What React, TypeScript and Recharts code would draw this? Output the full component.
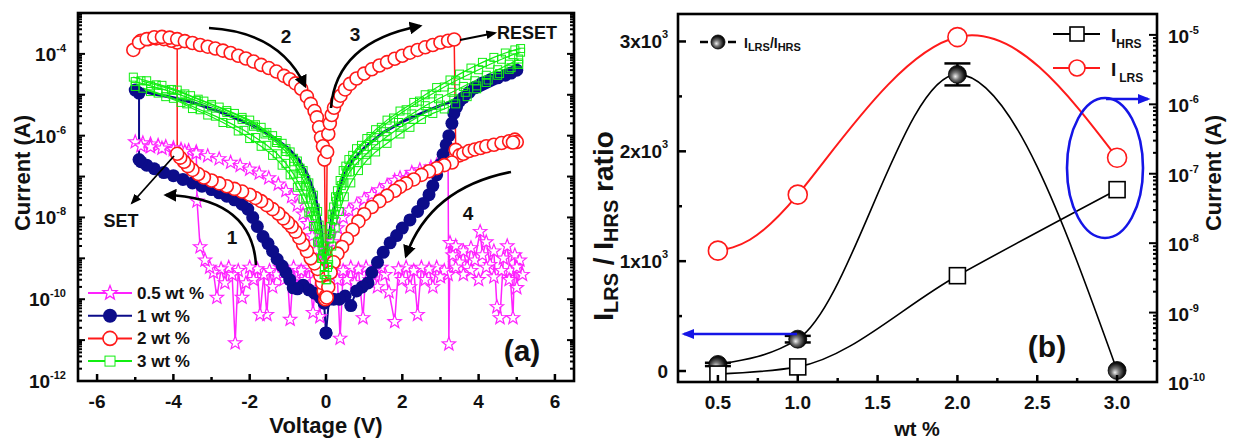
import React from 'react';
import { LineChart, ComposedChart, Line, XAxis, YAxis, ErrorBar } from 'recharts';

const FONT = '"Liberation Sans", Arial, Helvetica, sans-serif';

type Pt = [number, number];

// ---------- panel (a): I-V sweeps, [voltage (V), current (A)] ----------

const wt05Sweep: Pt[] = [
  [0.0, 3e-10], [-0.1, 6e-10], [-0.16, 3.7e-11], [-0.25, 5e-10], [-0.34, 4.7e-11], [-0.45, 6e-10],
  [-0.55, 3e-10], [-0.65, 5e-10], [-0.75, 2e-10], [-0.85, 6e-10], [-0.94, 3.2e-11], [-1.02, 5e-10],
  [-1.1, 3e-10], [-1.2, 6e-10], [-1.3, 4e-10], [-1.4, 2e-10], [-1.48, 5e-10], [-1.55, 4.2e-11],
  [-1.63, 4e-10], [-1.73, 4.2e-11], [-1.8, 5.5e-10], [-1.9, 3e-10], [-2.0, 6e-10], [-2.1, 2.5e-10],
  [-2.2, 1.1e-10], [-2.3, 5e-10], [-2.38, 8.5e-12], [-2.46, 4e-10], [-2.55, 6e-10], [-2.65, 2.5e-10],
  [-2.75, 5.5e-10], [-2.86, 1.1e-10], [-2.95, 4.5e-10], [-3.05, 6e-10], [-3.17, 9e-10], [-3.3, 1.9e-9],
  [-3.38, 2.5e-8],
  // SET
  [-3.4, 4.0e-7], [-3.6, 4.3e-7], [-3.8, 4.6e-7], [-4.0, 5.0e-7], [-4.2, 5.4e-7], [-4.4, 5.8e-7],
  [-4.6, 6.2e-7], [-4.8, 6.6e-7], [-5.0, 7.0e-7],
  [-4.85, 5.6e-7], [-4.6, 5.3e-7], [-4.3, 4.9e-7], [-4.0, 4.5e-7], [-3.7, 4.1e-7], [-3.4, 3.7e-7],
  [-3.1, 3.2e-7], [-2.8, 2.7e-7], [-2.5, 2.2e-7], [-2.25, 1.85e-7], [-2.0, 1.5e-7], [-1.75, 1.2e-7],
  [-1.5, 9.2e-8], [-1.25, 6.5e-8], [-1.05, 4.5e-8], [-0.9, 3.2e-8], [-0.75, 2.0e-8], [-0.6, 1.2e-8],
  [-0.48, 7e-9], [-0.36, 3.5e-9], [-0.25, 1.6e-9], [-0.15, 8e-10], [-0.06, 3e-10],
  // positive LRS
  [0.08, 8e-10], [0.18, 2.5e-9], [0.3, 5.5e-9], [0.45, 1.0e-8], [0.6, 1.5e-8], [0.8, 2.0e-8],
  [1.0, 2.8e-8], [1.2, 3.6e-8], [1.4, 4.7e-8], [1.6, 6.0e-8], [1.8, 8.0e-8], [1.94, 9.3e-8],
  [2.1, 9.0e-8], [2.25, 1.25e-7], [2.46, 1.45e-7], [2.6, 1.3e-7], [2.75, 1.7e-7], [2.9, 1.9e-7],
  [3.05, 2.1e-7], [3.2, 2.3e-7],
  // RESET, noisy HRS
  [3.22, 8e-12], [3.25, 2.4e-9], [3.32, 1.2e-9], [3.4, 2e-9], [3.5, 8e-10], [3.6, 1.5e-9], [3.7, 6e-10],
  [3.8, 1.8e-9], [3.9, 9e-10], [4.04, 4.5e-9], [4.1, 1.2e-9], [4.2, 2.5e-9], [4.3, 7e-10], [4.4, 1.5e-9],
  [4.48, 6.5e-11], [4.56, 3.5e-11], [4.65, 1e-9], [4.75, 2e-9], [4.82, 5e-10], [4.9, 3.5e-11],
  [4.95, 1.2e-9], [5.0, 1.9e-10], [5.08, 9e-10], [5.15, 4e-10],
  [5.0, 6e-10], [4.8, 3e-10], [4.6, 5e-10], [4.4, 3.5e-10], [4.2, 6e-10], [4.0, 3e-10], [3.8, 5e-10],
  [3.6, 4e-10], [3.4, 6e-10], [3.2, 4e-10], [3.1, 5e-10], [3.0, 3.5e-10], [2.9, 6e-10], [2.8, 2e-10],
  [2.7, 5.5e-10], [2.6, 3e-10], [2.5, 6e-10], [2.4, 4.2e-11], [2.3, 5e-10], [2.2, 2e-10], [2.1, 6e-10],
  [2.0, 3e-10], [1.9, 5.5e-10], [1.8, 2.8e-11], [1.65, 1.5e-10], [1.55, 4e-10], [1.45, 6e-10],
  [1.35, 2e-10], [1.25, 5e-10], [1.15, 3e-10], [1.05, 6e-10], [0.97, 3.5e-11], [0.85, 5.5e-10],
  [0.75, 2.5e-10], [0.65, 6e-10], [0.55, 3e-10], [0.45, 5e-10], [0.37, 1.1e-11], [0.3, 3e-10],
  [0.2, 6e-10], [0.1, 4e-10],
];

const wt1Hrs: Pt[] = [
  [0.0, 1.5e-11], [-0.05, 8e-11], [-0.15, 1.1e-10], [-0.3, 1.4e-10], [-0.45, 1.7e-10], [-0.6, 2.2e-10],
  [-0.75, 1.8e-10], [-0.86, 1.9e-10], [-0.95, 3e-10], [-1.05, 4.5e-10], [-1.15, 6.5e-10],
  [-1.28, 9.5e-10], [-1.4, 1.5e-9], [-1.52, 2.3e-9], [-1.65, 3.4e-9], [-1.8, 6e-9], [-1.92, 1e-8],
  [-2.05, 1.6e-8], [-2.2, 2.1e-8], [-2.4, 2.7e-8], [-2.6, 3.3e-8], [-2.8, 4e-8], [-3.0, 4.8e-8],
  [-3.25, 5.8e-8], [-3.5, 7e-8], [-3.75, 8.5e-8], [-4.0, 1.05e-7], [-4.25, 1.25e-7], [-4.5, 1.55e-7],
  [-4.7, 1.9e-7], [-4.85, 2.3e-7], [-4.9, 2.6e-7],
  // SET
  [-4.9, 1.1e-5], [-5.0, 1.3e-5],
];

const wt1Lrs: Pt[] = [
  [-5.0, 1.3e-5], [-4.8, 1.2e-5], [-4.5, 1.05e-5], [-4.0, 8.5e-6], [-3.5, 6.5e-6], [-3.0, 4.5e-6],
  [-2.5, 3e-6], [-2.0, 1.9e-6], [-1.5, 1.1e-6], [-1.0, 5e-7], [-0.7, 2.5e-7], [-0.5, 1.2e-7],
  [-0.3, 4e-8], [-0.15, 8e-9], [-0.05, 1e-9], [0.05, 2e-9], [0.15, 1e-8], [0.3, 4e-8], [0.5, 1.2e-7],
  [0.7, 2.5e-7], [1.0, 5e-7], [1.5, 1.2e-6], [2.0, 2.2e-6], [2.5, 3.5e-6], [3.0, 5.5e-6],
  [3.5, 8e-6], [4.0, 1.2e-5], [4.5, 2e-5], [5.0, 4e-5],
];

const wt1Return: Pt[] = [
  [5.0, 4e-5], [4.85, 3.4e-5], [4.7, 3e-5], [4.5, 2.6e-5], [4.3, 2.3e-5], [4.1, 1.95e-5], [3.9, 1.5e-5],
  [3.75, 1.15e-5], [3.6, 8.5e-6], [3.5, 7e-6], [3.42, 5e-6], [3.35, 3.5e-6], [3.3, 2e-6], [3.22, 1e-6],
  [3.15, 6e-7], [3.07, 3.5e-7], [3.0, 2e-7], [2.9, 1.1e-7], [2.8, 6e-8], [2.7, 3.6e-8], [2.55, 2.2e-8],
  [2.4, 1.4e-8], [2.2, 8.7e-9], [2.0, 5.5e-9], [1.85, 3.6e-9], [1.68, 2.4e-9], [1.5, 1.4e-9],
  [1.35, 8e-10], [1.2, 4.5e-10], [1.1, 2.5e-10], [0.95, 2e-10], [0.8, 1.6e-10], [0.65, 7e-11],
  [0.5, 1.2e-10], [0.35, 1e-10], [0.2, 1e-10], [0.08, 1e-10], [0.0, 1.5e-11],
];

const wt2Sweep: Pt[] = [
  [-0.02, 1.0e-10], [-0.06, 1.6e-10], [-0.1, 2.5e-10], [-0.15, 3.8e-10], [-0.22, 5.5e-10],
  [-0.3, 7.5e-10], [-0.4, 1.0e-9], [-0.5, 1.5e-9], [-0.6, 2.2e-9], [-0.7, 3.2e-9], [-0.8, 4.5e-9],
  [-0.9, 6.0e-9], [-1.0, 7.5e-9], [-1.12, 9.5e-9], [-1.25, 1.25e-8], [-1.4, 1.6e-8], [-1.55, 2.0e-8],
  [-1.7, 2.5e-8], [-1.85, 3.0e-8], [-2.0, 3.6e-8], [-2.2, 4.3e-8], [-2.4, 5.0e-8], [-2.6, 5.8e-8],
  [-2.8, 6.8e-8], [-3.0, 8.0e-8], [-3.2, 9.5e-8], [-3.35, 1.15e-7], [-3.5, 1.45e-7], [-3.62, 1.8e-7],
  [-3.72, 2.3e-7], [-3.82, 2.9e-7], [-3.9, 3.6e-7],
  // SET
  [-3.9, 1.9e-4], [-4.05, 2.1e-4], [-4.25, 2.3e-4], [-4.45, 2.4e-4], [-4.65, 2.3e-4], [-4.85, 2.1e-4],
  [-5.05, 1.25e-4], [-4.9, 1.9e-4], [-4.7, 2.3e-4], [-4.5, 2.55e-4], [-4.3, 2.6e-4], [-4.1, 2.5e-4],
  [-3.9, 2.3e-4], [-3.7, 2.05e-4], [-3.5, 1.85e-4], [-3.3, 1.65e-4], [-3.1, 1.5e-4], [-2.9, 1.35e-4],
  [-2.7, 1.2e-4], [-2.5, 1.05e-4], [-2.3, 9.0e-5], [-2.1, 7.7e-5], [-1.9, 6.5e-5], [-1.7, 5.4e-5],
  [-1.5, 4.5e-5], [-1.3, 3.7e-5], [-1.1, 2.9e-5], [-0.95, 2.4e-5], [-0.8, 1.9e-5], [-0.65, 1.4e-5],
  [-0.5, 9.0e-6], [-0.4, 6.0e-6], [-0.3, 4.0e-6], [-0.24, 2.8e-6], [-0.18, 1.6e-6], [-0.13, 9.0e-7],
  [-0.08, 5.5e-7], [-0.04, 2.6e-7], [0.0, 1.2e-10],
  [0.03, 4.0e-7], [0.06, 1.1e-6], [0.1, 2.0e-6], [0.15, 3.2e-6], [0.21, 4.8e-6], [0.29, 7.0e-6],
  [0.38, 9.5e-6], [0.5, 1.35e-5], [0.63, 1.85e-5], [0.8, 2.5e-5], [1.0, 3.3e-5], [1.2, 4.2e-5],
  [1.4, 5.2e-5], [1.6, 6.3e-5], [1.8, 7.6e-5], [2.0, 9.0e-5], [2.2, 1.07e-4], [2.4, 1.25e-4],
  [2.6, 1.45e-4], [2.8, 1.65e-4], [3.0, 1.9e-4], [3.2, 2.1e-4], [3.36, 2.25e-4],
  // RESET
  [3.4, 4.5e-7], [3.5, 3.3e-7], [3.6, 3.6e-7], [3.75, 4.2e-7], [3.9, 4.6e-7], [4.05, 5.0e-7],
  [4.2, 5.5e-7], [4.4, 6.0e-7], [4.6, 6.6e-7], [4.8, 7.3e-7], [4.95, 8.0e-7], [5.0, 7.0e-7],
  [4.9, 6.8e-7], [3.3, 2.2e-7], [3.1, 1.9e-7], [2.9, 1.6e-7], [2.7, 1.35e-7], [2.5, 1.1e-7],
  [2.3, 8.5e-8], [2.1, 6.8e-8], [1.94, 5.6e-8], [1.8, 4.5e-8], [1.6, 3.4e-8], [1.4, 2.5e-8],
  [1.2, 1.8e-8], [1.0, 1.2e-8], [0.85, 8.0e-9], [0.7, 5.0e-9], [0.55, 3.0e-9], [0.42, 1.9e-9],
  [0.3, 1.3e-9], [0.2, 8.0e-10], [0.12, 4.5e-10], [0.06, 2.0e-10], [0.02, 1.1e-10],
];

// 3 wt %: several overlapping cycles form a thick band
const wt3LeftTop: Pt[] = [
  [-5.05, 2.7e-5], [-4.7, 2.2e-5], [-4.3, 1.7e-5], [-3.9, 1.3e-5], [-3.55, 9.5e-6], [-3.2, 7.0e-6],
  [-2.8, 5.0e-6], [-2.4, 3.5e-6], [-2.0, 2.4e-6], [-1.7, 1.6e-6], [-1.4, 1.0e-6], [-1.15, 6.5e-7],
  [-0.94, 4.0e-7], [-0.75, 2.4e-7], [-0.6, 1.4e-7], [-0.45, 7.0e-8], [-0.33, 3.5e-8], [-0.22, 1.4e-8],
  [-0.13, 5.0e-9], [-0.06, 1.5e-9], [0.0, 3.0e-10],
];
const wt3LeftUpperMid: Pt[] = [
  [-4.85, 2.2e-5], [-4.45, 1.75e-5], [-4.05, 1.35e-5], [-3.7, 1.05e-5], [-3.35, 7.8e-6], [-3.0, 5.8e-6],
  [-2.6, 4.1e-6], [-2.2, 2.8e-6], [-1.85, 1.85e-6], [-1.55, 1.2e-6], [-1.28, 7.6e-7], [-1.05, 4.8e-7],
  [-0.85, 2.8e-7], [-0.68, 1.6e-7], [-0.53, 8.5e-8], [-0.4, 4e-8], [-0.28, 1.7e-8], [-0.18, 6.5e-9],
  [-0.1, 2e-9], [-0.04, 6e-10],
];
const wt3LeftMid: Pt[] = [
  [-5.0, 2.1e-5], [-4.6, 1.65e-5], [-4.2, 1.3e-5], [-3.8, 9.8e-6], [-3.4, 7.2e-6], [-3.0, 5.3e-6],
  [-2.6, 3.7e-6], [-2.2, 2.5e-6], [-1.9, 1.7e-6], [-1.6, 1.1e-6], [-1.3, 6.8e-7], [-1.05, 4.1e-7],
  [-0.85, 2.3e-7], [-0.68, 1.2e-7], [-0.52, 5.8e-8], [-0.4, 2.8e-8], [-0.28, 1.1e-8], [-0.18, 4e-9],
  [-0.09, 1.2e-9], [-0.03, 4e-10],
];
const wt3LeftLowerMid: Pt[] = [
  [-4.8, 1.45e-5], [-4.4, 1.1e-5], [-4.0, 8.2e-6], [-3.65, 6.0e-6], [-3.3, 4.3e-6], [-2.9, 3.0e-6],
  [-2.5, 2.0e-6], [-2.15, 1.35e-6], [-1.85, 9.0e-7], [-1.55, 5.8e-7], [-1.28, 3.6e-7], [-1.05, 2.1e-7],
  [-0.85, 1.15e-7], [-0.68, 6e-8], [-0.53, 3e-8], [-0.4, 1.4e-8], [-0.28, 6e-9], [-0.18, 2.5e-9],
  [-0.1, 1e-9],
];
const wt3LeftBot: Pt[] = [
  [-5.0, 1.6e-5], [-4.6, 1.2e-5], [-4.2, 9.0e-6], [-3.8, 6.5e-6], [-3.5, 4.6e-6], [-3.1, 3.2e-6],
  [-2.7, 2.1e-6], [-2.3, 1.3e-6], [-2.0, 8.5e-7], [-1.7, 5.5e-7], [-1.4, 3.3e-7], [-1.15, 1.9e-7],
  [-0.94, 1.1e-7], [-0.75, 5.5e-8], [-0.6, 2.8e-8], [-0.45, 1.3e-8], [-0.33, 6e-9], [-0.22, 2.5e-9],
  [-0.12, 1e-9], [-0.05, 4e-10],
];
const wt3RightTop: Pt[] = [
  [0.05, 1.5e-9], [0.12, 6e-9], [0.2, 1.8e-8], [0.3, 4.5e-8], [0.45, 1.4e-7], [0.6, 2.6e-7],
  [0.8, 4.8e-7], [1.07, 8.5e-7], [1.3, 1.4e-6], [1.6, 2.4e-6], [1.94, 4.0e-6], [2.3, 6.5e-6],
  [2.6, 1.0e-5], [2.9, 1.5e-5], [3.25, 2.3e-5], [3.5, 3.2e-5], [3.8, 4.5e-5], [4.1, 6.2e-5],
  [4.4, 8.2e-5], [4.7, 1.05e-4], [4.95, 1.25e-4], [5.1, 1.35e-4],
];
const wt3RightUpperMid: Pt[] = [
  [0.08, 3e-9], [0.16, 1.2e-8], [0.25, 3.2e-8], [0.37, 8e-8], [0.52, 1.8e-7], [0.7, 3.3e-7],
  [0.93, 5.8e-7], [1.18, 9.5e-7], [1.45, 1.6e-6], [1.77, 2.7e-6], [2.1, 4.3e-6], [2.45, 7.0e-6],
  [2.78, 1.05e-5], [3.1, 1.55e-5], [3.4, 2.2e-5], [3.7, 3.0e-5], [4.0, 4.1e-5], [4.3, 5.6e-5],
  [4.6, 7.4e-5], [4.9, 9.6e-5], [5.1, 1.1e-4],
];
const wt3RightMid: Pt[] = [
  [0.04, 6e-10], [0.1, 3e-9], [0.18, 9e-9], [0.28, 2.5e-8], [0.4, 6e-8], [0.55, 1.3e-7], [0.75, 2.5e-7],
  [1.0, 4.5e-7], [1.25, 7.5e-7], [1.55, 1.25e-6], [1.9, 2.1e-6], [2.25, 3.4e-6], [2.6, 5.4e-6],
  [2.95, 8.0e-6], [3.3, 1.15e-5], [3.6, 1.6e-5], [3.9, 2.2e-5], [4.2, 3.0e-5], [4.5, 4.1e-5],
  [4.8, 5.6e-5], [5.05, 7.5e-5],
];
const wt3RightLowerMid: Pt[] = [
  [0.06, 1e-9], [0.13, 4e-9], [0.22, 1.2e-8], [0.33, 3.2e-8], [0.47, 7e-8], [0.62, 1.3e-7],
  [0.82, 2.2e-7], [1.05, 3.5e-7], [1.3, 5.8e-7], [1.6, 9.5e-7], [1.94, 1.6e-6], [2.3, 2.5e-6],
  [2.65, 3.9e-6], [3.0, 5.6e-6], [3.35, 8.0e-6], [3.65, 1.15e-5], [3.95, 1.65e-5], [4.25, 2.3e-5],
  [4.55, 3.3e-5], [4.85, 4.6e-5], [5.05, 6.0e-5],
];
const wt3RightBot: Pt[] = [
  [5.05, 5.5e-5], [4.8, 4.2e-5], [4.5, 3.0e-5], [4.2, 2.0e-5], [3.95, 1.4e-5], [3.7, 9.0e-6],
  [3.4, 6.0e-6], [3.1, 4.5e-6], [2.8, 3.5e-6], [2.5, 2.5e-6], [2.2, 1.6e-6], [1.94, 1.1e-6],
  [1.6, 6.5e-7], [1.3, 4.0e-7], [1.07, 2.5e-7], [0.85, 1.4e-7], [0.65, 7e-8], [0.48, 3.2e-8],
  [0.35, 1.4e-8], [0.24, 5.5e-9], [0.15, 2e-9], [0.07, 7e-10], [0.02, 3e-10],
];

const voltMajor = [-6, -4, -2, 0, 2, 4, 6];
const voltMinor = [-5, -3, -1, 1, 3, 5];
const curLabelExpA = [-12, -10, -8, -6, -4];

// ---------- panel (b): summary vs wt % ----------
const wtPct = [0.5, 1.0, 2.0, 3.0];
const onOffRatio = [60, 290, 2700, 5];
const ratioErr = [15, 30, 100, 0];
const iLRS = [7.8e-9, 5.0e-8, 9.3e-6, 1.7e-7];
const iHRS = [1.3e-10, 1.65e-10, 3.4e-9, 5.9e-8];

const wtMajor = [0.5, 1.0, 1.5, 2.0, 2.5, 3.0];
const wtMinor = [0.75, 1.25, 1.75, 2.25, 2.75];
const ratioMajor = [0, 1000, 2000, 3000];
const ratioMinor = [500, 1500, 2500];
const ratioLabels = ['0', '1x10', '2x10', '3x10'];

// log-axis ticks: every mantissa 1..9 inside [10^lo, 10^hi]
const logTicks = (lo: number, hi: number) => {
  const out: number[] = [];
  for (let e = lo; e < hi; e++) for (let m = 1; m <= 9; m++) out.push(Number(`${m}e${e}`));
  out.push(Number(`1e${hi}`));
  return out;
};
const decadeOf = (v: number) => {
  const e = Math.round(Math.log10(v));
  return Math.abs(v / Number(`1e${e}`) - 1) < 1e-6 ? e : null;
};

const toRows = (a: Pt[]) => a.map(([v, i]) => ({ v, i }));

const rowsB = wtPct.map((w, k) => ({ wt: w, ratio: onOffRatio[k], err: ratioErr[k], lrs: iLRS[k], hrs: iHRS[k] }));

// ---------- markers ----------
const starPts = (cx: number, cy: number, R: number) => {
  const p: string[] = [];
  for (let k = 0; k < 10; k++) {
    const rr = k % 2 === 0 ? R : R * 0.42;
    const a = -Math.PI / 2 + (k * Math.PI) / 5;
    p.push(`${(cx + rr * Math.cos(a)).toFixed(2)},${(cy + rr * Math.sin(a)).toFixed(2)}`);
  }
  return p.join(' ');
};

const MAG = '#ff22ff';
const NAVY = '#0c0c8a';
const RED = '#ff1a1a';
const GREEN = '#11ee11';
const BLUE = '#1515e6';

const starDot = (p: any) =>
  p.cx == null ? <g key={`s${p.index}`} /> : (
    <polygon key={`s${p.index}`} points={starPts(p.cx, p.cy, 7)} fill="#fff" stroke={MAG} strokeWidth={1.2} />
  );
const navyDot = (p: any) =>
  p.cx == null ? <g key={`b${p.index}`} /> : <circle key={`b${p.index}`} cx={p.cx} cy={p.cy} r={6.5} fill={NAVY} />;
const redDot = (p: any) =>
  p.cx == null ? <g key={`r${p.index}`} /> : (
    <circle key={`r${p.index}`} cx={p.cx} cy={p.cy} r={6.5} fill="#fff" stroke={RED} strokeWidth={1.6} />
  );
const greenDot = (p: any) =>
  p.cx == null ? <g key={`g${p.index}`} /> : (
    <rect key={`g${p.index}`} x={p.cx - 4} y={p.cy - 4} width={8} height={8} fill="none" stroke={GREEN} strokeWidth={1} />
  );
const sphereDot = (p: any) =>
  p.cx == null ? <g key={`o${p.index}`} /> : (
    <circle key={`o${p.index}`} cx={p.cx} cy={p.cy} r={9} fill="url(#sphere)" stroke="#000" strokeWidth={0.8} />
  );
const squareDot = (p: any) =>
  p.cx == null ? <g key={`q${p.index}`} /> : (
    <rect key={`q${p.index}`} x={p.cx - 8} y={p.cy - 8} width={16} height={16} fill="#fff" stroke="#000" strokeWidth={1.6} />
  );
const ringDot = (p: any) =>
  p.cx == null ? <g key={`l${p.index}`} /> : (
    <circle key={`l${p.index}`} cx={p.cx} cy={p.cy} r={9.5} fill="#fff" stroke={RED} strokeWidth={1.6} />
  );

// ---------- ticks ----------
const txt = { fontFamily: FONT, fontWeight: 700 as const, fill: '#111' };

const VoltTick = (p: any) => {
  const v = p.payload.value;
  const major = voltMajor.includes(v);
  return (
    <g>
      <line x1={p.x} y1={p.y} x2={p.x} y2={p.y - (major ? 7 : 4)} stroke="#000" strokeWidth={2.5} />
      {major && (
        <text x={p.x} y={p.y + 27} textAnchor="middle" fontSize={19} {...txt}>{v}</text>
      )}
    </g>
  );
};

const LogTickA = (p: any) => {
  const e = decadeOf(p.payload.value);
  return (
    <g>
      <line x1={p.x} y1={p.y} x2={p.x + (e !== null ? 7 : 4)} y2={p.y} stroke="#000" strokeWidth={2} />
      {e !== null && curLabelExpA.includes(e) && (
        <text x={p.x - 12} y={p.y + 7} textAnchor="end" fontSize={19} {...txt}>
          10<tspan dy={-9} fontSize={11}>{e}</tspan>
        </text>
      )}
    </g>
  );
};
const LogTickRightA = (p: any) => {
  const e = decadeOf(p.payload.value);
  return <line x1={p.x} y1={p.y} x2={p.x - (e !== null ? 7 : 4)} y2={p.y} stroke="#000" strokeWidth={2} />;
};

const WtTick = (p: any) => {
  const v = p.payload.value;
  const major = wtMajor.includes(v);
  return (
    <g>
      <line x1={p.x} y1={p.y} x2={p.x} y2={p.y - (major ? 7 : 4)} stroke="#000" strokeWidth={2.5} />
      {major && (
        <text x={p.x} y={p.y + 27} textAnchor="middle" fontSize={19} {...txt}>{v.toFixed(1)}</text>
      )}
    </g>
  );
};

const RatioTick = (p: any) => {
  const v = p.payload.value;
  const k = ratioMajor.indexOf(v);
  return (
    <g>
      <line x1={p.x} y1={p.y} x2={p.x + (k >= 0 ? 8 : 4)} y2={p.y} stroke="#000" strokeWidth={2.5} />
      {k >= 0 && (
        <text x={p.x - (k === 0 ? 10 : 16)} y={p.y + 7} textAnchor="end" fontSize={19} {...txt}>
          {ratioLabels[k]}
        </text>
      )}
      {k > 0 && (
        <text x={p.x - 16} y={p.y - 3} fontSize={11} {...txt}>3</text>
      )}
    </g>
  );
};

const LogTickB = (p: any) => {
  const e = decadeOf(p.payload.value);
  return (
    <g>
      <line x1={p.x} y1={p.y} x2={p.x - (e !== null ? 8 : 4)} y2={p.y} stroke="#000" strokeWidth={2} />
      {e !== null && (
        <text x={p.x + 11} y={p.y + 8} fontSize={19} {...txt}>
          10<tspan dy={-9} fontSize={11}>{e}</tspan>
        </text>
      )}
    </g>
  );
};

const axisCommon = { axisLine: false, tickLine: false, tickSize: 0, tickMargin: 0, interval: 0 as const, allowDataOverflow: true };

const legendA = [
  { label: '0.5 wt %', color: MAG, kind: 'star' },
  { label: '1 wt %', color: NAVY, kind: 'dot' },
  { label: '2 wt %', color: RED, kind: 'ring' },
  { label: '3 wt %', color: GREEN, kind: 'square' },
];

const wt3Traces = [
  wt3LeftTop, wt3LeftUpperMid, wt3LeftMid, wt3LeftLowerMid, wt3LeftBot,
  wt3RightTop, wt3RightUpperMid, wt3RightMid, wt3RightLowerMid, wt3RightBot,
];

export default function App() {
  const ticksA = logTicks(-12, -3);
  const ticksB = logTicks(-10, -5).concat([2e-5]);
  return (
    <div style={{ position: 'absolute', left: 0, top: 0, width: 1234, height: 442, background: '#fff', fontFamily: FONT }}>
      <div style={{ position: 'absolute', left: 0, top: 0 }}>
        <LineChart width={600} height={442} margin={{ top: 13, right: 25, bottom: 21, left: 18 }}>
          <XAxis type="number" dataKey="v" domain={[-6.5, 6.5]} ticks={[...voltMajor, ...voltMinor]} height={40} tick={VoltTick} {...axisCommon} />
          <YAxis yAxisId="l" type="number" scale="log" domain={[1e-12, 1e-3]} ticks={ticksA} width={60} tick={LogTickA} {...axisCommon} />
          <YAxis yAxisId="r" orientation="right" type="number" scale="log" domain={[1e-12, 1e-3]} ticks={ticksA} width={1} tick={LogTickRightA} {...axisCommon} />
          <Line yAxisId="l" data={toRows(wt05Sweep)} dataKey="i" stroke={MAG} strokeWidth={1.5} dot={starDot} isAnimationActive={false} />
          <Line yAxisId="l" data={toRows(wt1Lrs)} dataKey="i" stroke={NAVY} strokeWidth={3} dot={false} isAnimationActive={false} />
          <Line yAxisId="l" data={toRows(wt1Hrs)} dataKey="i" stroke={NAVY} strokeWidth={2} dot={navyDot} isAnimationActive={false} />
          <Line yAxisId="l" data={toRows(wt1Return)} dataKey="i" stroke={NAVY} strokeWidth={2} dot={navyDot} isAnimationActive={false} />
          <Line yAxisId="l" data={toRows(wt2Sweep)} dataKey="i" stroke={RED} strokeWidth={1.5} dot={redDot} isAnimationActive={false} />
          {wt3Traces.map((s, k) => (
            <Line key={`g${k}`} yAxisId="l" data={toRows(s)} dataKey="i" stroke={GREEN} strokeWidth={1.2} dot={greenDot} isAnimationActive={false} />
          ))}
        </LineChart>
      </div>

      <div style={{ position: 'absolute', left: 600, top: 0 }}>
        <ComposedChart width={634} height={442} data={rowsB} margin={{ top: 14, right: 7, bottom: 20, left: 8 }}>
          <XAxis type="number" dataKey="wt" domain={[0.25, 3.25]} ticks={[...wtMajor, ...wtMinor]} height={40} tick={WtTick} {...axisCommon} />
          <YAxis yAxisId="ratio" type="number" domain={[-100, 3250]} ticks={[...ratioMajor, ...ratioMinor]} width={70} tick={RatioTick} {...axisCommon} />
          <YAxis yAxisId="cur" orientation="right" type="number" scale="log" domain={[1e-10, 2e-5]} ticks={ticksB} width={70} tick={LogTickB} {...axisCommon} />
          <Line yAxisId="ratio" dataKey="ratio" type="monotone" stroke="#000" strokeWidth={1.6} dot={sphereDot} isAnimationActive={false}>
            <ErrorBar dataKey="err" width={13} stroke="#000" strokeWidth={2.5} direction="y" />
          </Line>
          <Line yAxisId="cur" dataKey="hrs" type="monotone" stroke="#000" strokeWidth={1.6} dot={squareDot} isAnimationActive={false} />
          <Line yAxisId="cur" dataKey="lrs" type="natural" stroke={RED} strokeWidth={2} dot={ringDot} isAnimationActive={false} />
        </ComposedChart>
      </div>

      <svg width={1234} height={442} style={{ position: 'absolute', left: 0, top: 0, pointerEvents: 'none' }}>
        <defs>
          <radialGradient id="sphere" cx="45%" cy="55%" r="60%" fx="38%" fy="62%">
            <stop offset="0%" stopColor="#f0f0f0" />
            <stop offset="35%" stopColor="#777" />
            <stop offset="75%" stopColor="#151515" />
            <stop offset="100%" stopColor="#000" />
          </radialGradient>
          <marker id="ahK" viewBox="0 0 10 10" refX="8" refY="5" markerWidth="5" markerHeight="5" orient="auto">
            <path d="M0,0 L10,5 L0,10 z" fill="#000" />
          </marker>
          <marker id="ahKs" viewBox="0 0 10 10" refX="8" refY="5" markerWidth="6" markerHeight="6" orient="auto">
            <path d="M0,1 L10,5 L0,9 z" fill="#000" />
          </marker>
          <marker id="ahB" viewBox="0 0 10 10" refX="8" refY="5" markerWidth="5" markerHeight="5" orient="auto">
            <path d="M0,1 L10,5 L0,9 z" fill={BLUE} />
          </marker>
        </defs>

        {/* frames */}
        <rect x={78} y={13} width={496} height={368} fill="none" stroke="#000" strokeWidth={2.6} />
        <rect x={678} y={14} width={479} height={368} fill="none" stroke="#000" strokeWidth={2.6} />

        {/* panel (a) annotations */}
        <g fill="none" stroke="#000" strokeWidth={2.6}>
          <path d="M 209 28 Q 280 32 305 86" markerEnd="url(#ahK)" />
          <path d="M 331 108 Q 336 42 420 26" markerEnd="url(#ahK)" />
          <path d="M 256 265 Q 252 198 166 195" markerEnd="url(#ahK)" />
          <path d="M 511 172 Q 430 188 406 256" markerEnd="url(#ahK)" />
        </g>
        <g stroke="#000" strokeWidth={1.8}>
          <line x1={460} y1={40} x2={495} y2={33} markerEnd="url(#ahKs)" />
          <line x1={174} y1={156} x2={132} y2={203} markerEnd="url(#ahKs)" />
        </g>
        <g fontSize={19} textAnchor="middle" {...txt}>
          <text x={286} y={43}>2</text>
          <text x={355} y={41}>3</text>
          <text x={232} y={244}>1</text>
          <text x={468} y={220}>4</text>
        </g>
        <text x={497} y={39} fontSize={18} {...txt}>RESET</text>
        <text x={121} y={227} fontSize={18} textAnchor="middle" {...txt}>SET</text>
        <text x={522} y={361} fontSize={30} textAnchor="middle" {...txt}>(a)</text>

        {/* legend (a) */}
        {legendA.map((l, k) => {
          const y = 293 + k * 22.7;
          return (
            <g key={l.label}>
              <line x1={88} y1={y} x2={132} y2={y} stroke={l.color} strokeWidth={2} />
              {l.kind === 'star' && <polygon points={starPts(110, y, 7.5)} fill="#fff" stroke={l.color} strokeWidth={1.3} />}
              {l.kind === 'dot' && <circle cx={110} cy={y} r={7} fill={l.color} />}
              {l.kind === 'ring' && <circle cx={110} cy={y} r={7} fill="#fff" stroke={l.color} strokeWidth={1.6} />}
              {l.kind === 'square' && <rect x={105} y={y - 5} width={10} height={10} fill="#fff" stroke={l.color} strokeWidth={1} />}
              <text x={137} y={y + 6} fontSize={17} {...txt}>{l.label}</text>
            </g>
          );
        })}

        {/* axis titles (a) */}
        <text transform="translate(30,173) rotate(-90)" textAnchor="middle" fontSize={22} {...txt}>Current (A)</text>
        <text x={326} y={433} textAnchor="middle" fontSize={22} {...txt}>Voltage (V)</text>

        {/* panel (b) annotations */}
        <line x1={797} y1={334} x2={684} y2={334} stroke={BLUE} strokeWidth={2.6} markerEnd="url(#ahB)" />
        <ellipse cx={1105} cy={168} rx={38} ry={70} fill="none" stroke={BLUE} strokeWidth={2.6} />
        <line x1={1106} y1={99} x2={1148} y2={99} stroke={BLUE} strokeWidth={2.6} markerEnd="url(#ahB)" />
        <text x={1047} y={357} fontSize={30} textAnchor="middle" {...txt}>(b)</text>

        {/* legend (b) */}
        <line x1={700} y1={42} x2={708} y2={42} stroke="#000" strokeWidth={2.5} />
        <circle cx={718} cy={42} r={7} fill="url(#sphere)" stroke="#000" strokeWidth={0.8} />
        <line x1={728} y1={42} x2={736} y2={42} stroke="#000" strokeWidth={2.5} />
        <text x={744} y={48} fontSize={14} {...txt}>
          I<tspan fontSize={11} dy={3}>LRS</tspan><tspan dy={-3}>/I</tspan><tspan fontSize={11} dy={3}>HRS</tspan>
        </text>
        <line x1={1053} y1={34} x2={1100} y2={34} stroke="#000" strokeWidth={2} />
        <rect x={1070} y={27} width={14} height={14} fill="#fff" stroke="#000" strokeWidth={1.6} />
        <text x={1111} y={42} fontSize={19} {...txt}>
          I<tspan fontSize={12} dy={6}>HRS</tspan>
        </text>
        <line x1={1053} y1={68} x2={1100} y2={68} stroke={RED} strokeWidth={2} />
        <circle cx={1077} cy={68} r={8} fill="#fff" stroke={RED} strokeWidth={1.6} />
        <text x={1111} y={76} fontSize={19} {...txt}>
          I<tspan fontSize={12} dy={6} dx={3}>LRS</tspan>
        </text>

        {/* axis titles (b) */}
        <text transform="translate(613,226) rotate(-90)" textAnchor="middle" fontSize={28} {...txt}>
          I<tspan fontSize={20} dy={5}>LRS</tspan><tspan dy={-5}> / I</tspan><tspan fontSize={20} dy={5}>HRS</tspan><tspan dy={-5}>  ratio</tspan>
        </text>
        <text transform="translate(1221,173) rotate(-90)" textAnchor="middle" fontSize={22} {...txt}>Current (A)</text>
        <text x={917} y={436} textAnchor="middle" fontSize={20} {...txt}>wt %</text>
      </svg>
    </div>
  );
}
